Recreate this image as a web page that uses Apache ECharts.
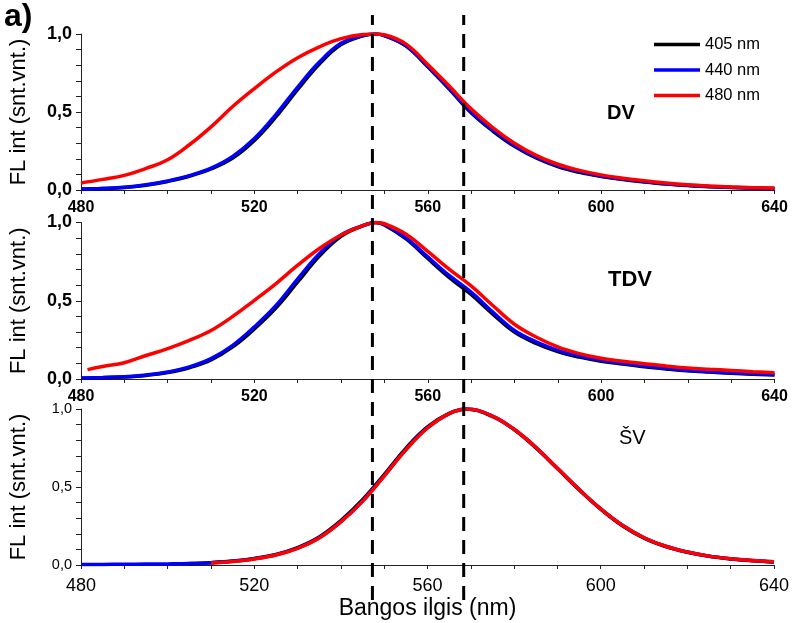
<!DOCTYPE html>
<html><head><meta charset="utf-8">
<script src="https://cdn.jsdelivr.net/npm/echarts@6/dist/echarts.min.js"></script>
<style>html,body{margin:0;padding:0;background:#fff}#c{width:792px;height:623px}</style>
</head><body><div id="c"></div>
<script>
// ---------- data ----------
const seriesNames = ['405 nm', '440 nm', '480 nm'];
const seriesColors = ['#000000', '#0000ff', '#ff0000'];
const panelLabels = ['DV', 'TDV', 'ŠV'];
const xMin = 480, xMax = 640, xStep = 40;
const yTickStep = 0.5;
const dashedWavelengths = [547.5, 568.5];

// wavelength grids (nm)
const wlTop = [480,485,490,495,500,505,510,515,520,525,530,535,540,545,548,550,555,560,565,570,575,580,585,590,595,600,605,610,615,620,625,630,635,640];
const wlTdvRed = [481.5,485,490,495,500,505,510,515,520,525,530,535,540,545,548,550,555,560,565,570,575,580,585,590,595,600,605,610,615,620,625,630,635,640];
const wlSv = [480,485,490,495,500,505,510,515,520,525,530,535,540,545,550,555,560,565,569,575,580,585,590,595,600,605,610,615,620,625,630,635,640];

// DV panel
const dv405 = [0.005,0.009,0.016,0.031,0.055,0.088,0.135,0.205,0.318,0.470,0.645,0.808,0.932,0.988,1.000,0.990,0.922,0.790,0.645,0.495,0.378,0.280,0.205,0.150,0.113,0.087,0.067,0.052,0.039,0.029,0.021,0.016,0.012,0.009];
const dv440 = [0.006,0.010,0.017,0.033,0.058,0.092,0.140,0.215,0.330,0.485,0.660,0.820,0.940,0.990,1.000,0.990,0.925,0.795,0.650,0.502,0.385,0.285,0.210,0.155,0.118,0.090,0.070,0.054,0.040,0.030,0.022,0.017,0.013,0.010];
const dv480 = [0.045,0.068,0.094,0.138,0.194,0.290,0.405,0.535,0.650,0.757,0.848,0.918,0.970,0.997,1.000,0.995,0.935,0.805,0.665,0.520,0.400,0.300,0.222,0.165,0.126,0.097,0.076,0.059,0.045,0.034,0.026,0.020,0.015,0.012];

// TDV panel
const tdv405 = [0.005,0.008,0.013,0.023,0.041,0.072,0.122,0.205,0.320,0.455,0.620,0.785,0.912,0.978,1.000,0.985,0.895,0.770,0.648,0.540,0.415,0.300,0.228,0.175,0.140,0.114,0.095,0.078,0.064,0.052,0.044,0.037,0.031,0.026];
const tdv440 = [0.006,0.010,0.015,0.026,0.045,0.077,0.130,0.215,0.333,0.470,0.640,0.800,0.920,0.980,1.000,0.988,0.902,0.780,0.660,0.555,0.428,0.310,0.237,0.183,0.147,0.120,0.100,0.083,0.068,0.055,0.047,0.040,0.034,0.028];
const tdv480 = [0.060,0.080,0.104,0.150,0.194,0.247,0.310,0.400,0.503,0.610,0.727,0.834,0.920,0.980,1.000,0.992,0.925,0.815,0.700,0.595,0.470,0.350,0.268,0.205,0.162,0.132,0.113,0.098,0.083,0.070,0.062,0.055,0.047,0.040];

// ŠV panel
const sv405 = [null,null,null,null,null,0.009,0.015,0.025,0.042,0.068,0.112,0.180,0.285,0.418,0.580,0.748,0.885,0.972,1.000,0.952,0.868,0.752,0.618,0.482,0.358,0.252,0.172,0.118,0.082,0.056,0.039,0.028,0.020];
const sv440 = [0.004,0.004,0.005,0.006,0.007,0.009,0.014,0.024,0.040,0.065,0.108,0.175,0.278,0.410,0.572,0.740,0.880,0.970,1.000,0.955,0.870,0.755,0.620,0.485,0.360,0.255,0.175,0.120,0.083,0.057,0.040,0.029,0.021];
const sv480 = [null,null,null,null,null,null,0.013,0.023,0.039,0.064,0.107,0.173,0.276,0.408,0.570,0.738,0.878,0.970,1.000,0.955,0.870,0.755,0.620,0.485,0.360,0.255,0.175,0.120,0.083,0.057,0.040,0.029,0.021];

// ---------- build ----------
const FONT = '"Liberation Sans", Arial, sans-serif';
const pairs = (xs, ys) => xs.map((x, i) => [x, ys[i]]);
const panels = [
  { top: 34,    height: 156,   xs: [wlTop, wlTop, wlTop],    ys: [dv405, dv440, dv480],    bold: true },
  { top: 222.5, height: 156.5, xs: [wlTop, wlTop, wlTdvRed], ys: [tdv405, tdv440, tdv480], bold: true },
  { top: 409,   height: 156,   xs: [wlSv, wlSv, wlSv],       ys: [sv405, sv440, sv480],    bold: false }
];
const LEFT = 79, WIDTH = 695.5;
const axisColor = '#222';

const grid = [], xAxis = [], yAxis = [], series = [];
panels.forEach((p, gi) => {
  grid.push({ left: LEFT, width: WIDTH, top: p.top, height: p.height });
  xAxis.push({
    type: 'value', gridIndex: gi, min: xMin, max: xMax, interval: xStep,
    axisLine: { show: true, onZero: false, lineStyle: { color: axisColor, width: 1 } },
    axisTick: { show: true, length: 4, lineStyle: { color: axisColor } },
    minorTick: { show: true, splitNumber: 4, length: 4, lineStyle: { color: axisColor } },
    splitLine: { show: false },
    axisLabel: p.bold
      ? { margin: 10, color: '#000', fontFamily: FONT, fontSize: 16, fontWeight: 'bold' }
      : { margin: 12, color: '#000', fontFamily: FONT, fontSize: 18 },
    name: gi === 2 ? 'Bangos ilgis (nm)' : '',
    nameLocation: 'middle', nameGap: 32,
    nameTextStyle: { color: '#000', fontFamily: FONT, fontSize: 23 }
  });
  yAxis.push({
    type: 'value', gridIndex: gi, min: 0, max: 1, interval: yTickStep,
    axisLine: { show: true, onZero: false, lineStyle: { color: axisColor, width: 1 } },
    axisTick: { show: true, length: 5, lineStyle: { color: axisColor } },
    minorTick: { show: true, splitNumber: 5, length: 5, lineStyle: { color: axisColor } },
    splitLine: { show: false },
    axisLabel: {
      margin: 9, color: '#000', fontFamily: FONT,
      fontSize: p.bold ? 18 : 14.5, fontWeight: p.bold ? 'bold' : 'normal',
      formatter: v => v.toFixed(1).replace('.', ',')
    },
    name: 'FL int (snt.vnt.)', nameLocation: 'middle', nameGap: 51,
    nameTextStyle: { color: '#000', fontFamily: FONT, fontSize: 22 }
  });
  seriesNames.forEach((nm, si) => {
    series.push({
      type: 'line', name: nm, xAxisIndex: gi, yAxisIndex: gi,
      data: pairs(p.xs[si], p.ys[si]),
      showSymbol: false, smooth: 0.4, connectNulls: false,
      lineStyle: { color: seriesColors[si], width: 3.5 },
      itemStyle: { color: seriesColors[si] },
      z: 2 + si, silent: true
    });
  });
});

// overlay grid for dashed reference lines across all panels
grid.push({ left: LEFT, width: WIDTH, top: 15, bottom: 23 });
xAxis.push({ type: 'value', gridIndex: 3, min: xMin, max: xMax, show: false });
yAxis.push({ type: 'value', gridIndex: 3, min: 0, max: 1, show: false });
dashedWavelengths.forEach(w => {
  series.push({
    type: 'line', xAxisIndex: 3, yAxisIndex: 3, data: [[w, 0], [w, 1]],
    showSymbol: false, silent: true, z: 10,
    lineStyle: { color: '#000', width: 3, type: [14, 9] }
  });
});

const chart = echarts.init(document.getElementById('c'), null, { renderer: 'canvas' });
chart.setOption({
  backgroundColor: '#fff',
  animation: false,
  grid, xAxis, yAxis, series,
  legend: {
    data: seriesNames, orient: 'vertical', left: 654, top: 36, padding: 0,
    icon: 'rect', itemWidth: 46, itemHeight: 3.5, itemGap: 8.5,
    textStyle: { color: '#000', fontFamily: FONT, fontSize: 16.5 }
  },
  graphic: [
    { type: 'text', left: 4, top: 1, style: { text: 'a)', font: 'bold 32px ' + FONT, fill: '#000' } },
    { type: 'text', left: 607, top: 103, style: { text: panelLabels[0], font: 'bold 20px ' + FONT, fill: '#000' } },
    { type: 'text', left: 608, top: 269, style: { text: panelLabels[1], font: 'bold 22px ' + FONT, fill: '#000' } },
    { type: 'text', left: 619, top: 428, style: { text: panelLabels[2], font: '20px ' + FONT, fill: '#000' } }
  ]
});
</script></body></html>
